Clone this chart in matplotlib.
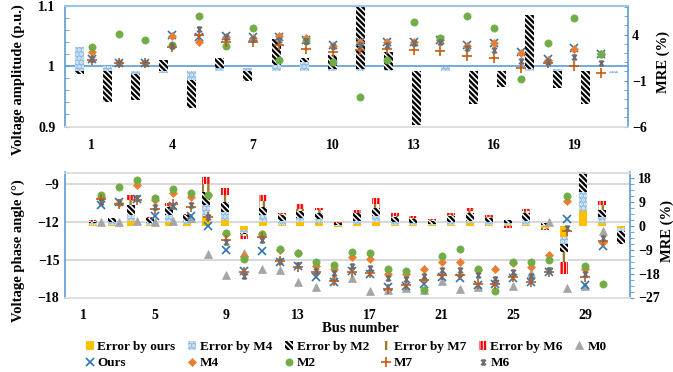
import numpy as np
import matplotlib
matplotlib.use("Agg")
import matplotlib.pyplot as plt
from matplotlib.path import Path
from matplotlib.patches import Patch
from matplotlib.lines import Line2D
from matplotlib.ticker import MultipleLocator, FixedLocator
import matplotlib.transforms as mtransforms

plt.rcParams['font.family'] = ['Liberation Serif', 'DejaVu Serif']
plt.rcParams['font.weight'] = 'bold'
plt.rcParams['hatch.linewidth'] = 1.7

# ---------------- top panel: voltage amplitude ----------------
amp_bus = list(range(1, 21))
amp_ours = [1.012, 1.006, 1.005, 1.0524, 1.048, 1.050, 1.048, 1.048, 1.044, 1.035,
            1.040, 1.040, 1.041, 1.044, 1.035, 1.039, 1.023, 1.0116, 1.030, 1.0204]
amp_m4 = [1.024, 1.006, 1.005, 1.051, 1.041, 1.049, 1.047, 1.0508, 1.0464, 1.034,
          1.040, 1.040, 1.041, 1.043, 1.034, 1.038, 1.022, 1.011, 1.029, 1.020]
amp_m2 = [1.0315, 1.0535, 1.0436, 1.0353, 1.084, 1.034, 1.063, 1.0104, 1.042, 1.0077,
          0.9496, 1.0104, 1.073, 1.0464, 1.0834, 1.063, 0.979, 1.038, 1.0796, 1.0204]
amp_m7 = [1.011, 1.006, 1.005, 1.0325, 1.052, 1.041, 1.041, 1.035, 1.028, 1.023,
          1.027, 1.028, 1.027, 1.026, 1.0176, 1.014, 0.9967, 1.005, 1.0005, 0.9884]
amp_m6 = [1.012, 1.006, 1.005, 1.034, 1.0624, 1.048, 1.046, 1.0436, 1.042, 1.034,
          1.035, 1.035, 1.038, 1.040, 1.030, 1.027, 1.009, 1.0066, 1.016, 1.005]
amp_err_cat = list(range(1, 21))
amp_err_m4 = [2.6, 0.6, -0.3, -0.2, -0.95, 0.4, 0.4, 0.7, 1.0, 0.3,
              0.3, 0.1, 0.0, 0.5, 0.0, 0.0, 0.2, 0.2, 0.0, -0.2]
amp_err_m2 = [-0.3, -3.3, -3.1, 1.2, -4.0, 1.5, -1.05, 3.5, 1.5, 1.8,
              7.5, 2.1, -5.85, 0.0, -3.5, -1.7, 6.1, -1.85, -3.6, 0.0]
amp_xticks = [1, 4, 7, 10, 13, 16, 19]

# ---------------- bottom panel: voltage phase angle ----------------
ang_bus = list(range(2, 31))
ang_m0 = [-12.0, -12.0, -11.95, -12.0, -11.95, -11.7, -14.58, -16.25, -14.5, -15.77,
          -15.8, -16.75, -17.15, -16.38, -16.46, -17.47, -17.4, -17.26, -17.4, -16.73,
          -17.32, -17.18, -16.6, -17.1, -16.02, -12.0, -17.26, -17.1, -12.72]
ang_ours = [-10.68, -10.41, -10.17, -11.5, -10.76, -11.5, -12.3, -14.25, -15.87, -14.34,
            -15.15, -15.5, -16.4, -16.75, -15.87, -16.1, -17.2, -17.05, -16.9, -16.4,
            -16.46, -17.0, -16.9, -16.45, -16.8, -15.95, -11.8, -17.0, -13.95]
ang_m4 = [-10.0, -10.5, -9.1, -10.25, -9.7, -10.0, -9.9, -13.0, -14.7, -13.0,
          -14.2, -14.5, -15.47, -15.72, -14.8, -14.97, -16.1, -16.1, -15.77, -15.18,
          -15.18, -15.85, -15.73, -15.3, -15.6, -14.6, -10.36, -15.75, -13.6]
ang_m2 = [-9.83, -9.2, -8.7, -10.09, -9.37, -9.69, -9.83, -12.85, -14.95, -12.93,
          -14.15, -14.47, -15.2, -15.4, -14.4, -14.47, -15.7, -15.87, -17.42, -14.73,
          -14.13, -15.7, -17.47, -15.2, -15.2, -15.06, -9.93, -15.53, -16.9]
ang_m7 = [-10.2, -10.6, -10.3, -10.95, -10.6, -10.8, -11.65, -13.4, -16.0, -13.2,
          -15.13, -15.6, -15.95, -16.7, -16.0, -16.06, -17.35, -17.0, -16.65, -16.25,
          -16.2, -16.95, -16.93, -16.38, -16.8, -16.0, -12.7, -16.35, -13.5]
ang_m6 = [-10.4, -10.4, -10.1, -10.85, -10.7, -10.62, -11.6, -13.6, -16.3, -13.45,
          -15.1, -15.4, -15.92, -16.03, -15.5, -15.63, -16.46, -16.57, -16.33, -15.8,
          -15.8, -16.2, -16.57, -15.98, -16.3, -15.85, -12.5, -16.15, -13.28]
ang_err_cat = list(range(1, 31))
ang_err_ours = [0, 0.3, 0.3, 1.8, 0.5, 1.5, 0.8, 3.4, 2.2, -1.6,
                1.5, 0.5, 1.3, 1.0, -0.5, 0.8, 1.5, 0.5, 0.3, 0.3,
                0.5, 1.2, 0.5, 0.3, 0.5, -1.0, -4.2, 5.7, 1.0, -1.0]
ang_err_m4 = [0, 1.0, 1.3, 4.0, 1.0, 4.0, 2.0, 7.8, 5.3, -2.6,
              4.0, 2.0, 3.0, 2.5, 0.5, 2.0, 3.8, 1.3, 1.0, 0.7,
              1.5, 2.0, 1.3, 1.0, 2.0, 0.5, -6.7, 12.9, 3.5, -2.0]
ang_err_m2 = [0, 1.3, 3.0, 7.8, 2.8, 7.2, 4.0, 12.9, 8.9, -3.2,
              7.2, 4.0, 5.5, 4.7, 1.0, 4.7, 6.8, 3.4, 2.6, 1.8,
              3.6, 4.7, 3.0, 2.2, 5.0, 1.0, -9.8, 21.0, 6.0, -6.7]
ang_err_m7 = [0, 1.8, 2.5, 9.7, 3.0, 7.5, 3.8, 15.7, 11.6, -4.0,
              9.3, 4.5, 6.5, 5.8, -0.4, 5.0, 8.1, 3.8, 3.0, 2.2,
              4.2, 5.5, 3.4, 1.5, 5.5, -1.2, -13.6, 19.0, 7.8, -6.5]
ang_err_m6 = [0, 2.2, 2.8, 11.6, 3.2, 8.5, 4.3, 18.5, 14.1, -5.0,
              11.6, 4.9, 8.1, 6.8, 1.5, 5.9, 10.4, 4.7, 3.6, 2.6,
              4.9, 6.9, 4.0, -0.8, 6.2, -1.6, -18.0, 18.0, 9.3, -6.9]
ang_xticks = [1, 5, 9, 13, 17, 21, 25, 29]

# ---------------- styles ----------------
BLUE_AX = '#5B9BD5'
GRID = '#D9D9D9'
bar_styles = {
    'Error by ours': dict(facecolor='#FFC000', edgecolor='#FFC000', hatch=None, z=5),
    'Error by M4': dict(facecolor='#8FBCE6', edgecolor='#E3EEF9', hatch='....', z=4),
    'Error by M2': dict(facecolor='white', edgecolor='black', hatch='\\\\\\\\\\\\', z=3),
    'Error by M7': dict(facecolor='white', edgecolor='#9C7C2C', hatch='|||', z=2),
    'Error by M6': dict(facecolor='white', edgecolor='#FF0000', hatch='|||||', z=1),
}
star_path = Path([(-1, -1), (1, 1), (-1, 1), (1, -1), (0, -1), (0, 1),
                  (-0.7, 1), (0.7, 1), (-0.7, -1), (0.7, -1)],
                 [Path.MOVETO, Path.LINETO] * 5)
mk_styles = {
    'M0': dict(marker='^', color='#A5A5A5', ms=6, mew=0.5, mfc='#A5A5A5'),
    'Ours': dict(marker='x', color='#2E75B6', ms=5.5, mew=1.2, mfc='#2E75B6'),
    'M4': dict(marker='D', color='#ED7D31', ms=4.2, mew=0.5, mfc='#ED7D31'),
    'M2': dict(marker='o', color='#70AD47', ms=5.2, mew=0.5, mfc='#70AD47'),
    'M7': dict(marker='+', color='#C55A11', ms=6.5, mew=1.2, mfc='#C55A11'),
    'M6': dict(marker=star_path, color='#6E6E6E', ms=3.6, mew=1.1, mfc='none'),
}

W, H = 673, 372
fig = plt.figure(figsize=(W / 100, H / 100), dpi=100)


def rect(l, t, r, b):
    return [l / W, 1 - b / H, (r - l) / W, (b - t) / H]


def draw_bars(ax, cats, series, width):
    for name, vals in series:
        st = bar_styles[name]
        ax.bar(cats, vals, width=width, facecolor=st['facecolor'], edgecolor=st['edgecolor'],
               hatch=st['hatch'], linewidth=0, zorder=st['z'])


def draw_markers(ax, x, series):
    for i, (name, vals) in enumerate(series):
        st = mk_styles[name]
        ax.plot(x, vals, linestyle='none', marker=st['marker'], color=st['color'],
                markersize=st['ms'], markeredgewidth=st['mew'], markerfacecolor=st['mfc'],
                zorder=10 + i, clip_on=False)


# ===== top panel =====
r1 = rect(65, 6, 628, 126.5)
axb1 = fig.add_axes(r1, zorder=1)
axm1 = fig.add_axes(r1, zorder=2)
axm1.patch.set_visible(False)

bl1 = mtransforms.blended_transform_factory(axb1.transAxes, axm1.transData)
axb1.plot([0, 1], [1.0, 1.0], transform=bl1, color=BLUE_AX, lw=1.2, zorder=0.5)
draw_bars(axb1, amp_err_cat, [('Error by M4', amp_err_m4), ('Error by M2', amp_err_m2)], 0.32)
axb1.set_xlim(0.5, 20.5)
axb1.set_ylim(-6, 7.1)
axb1.set_xticks([])
axb1.yaxis.tick_right()
axb1.yaxis.set_major_locator(FixedLocator([-6, -1, 4]))
axb1.yaxis.set_minor_locator(MultipleLocator(1))
axb1.tick_params(axis='y', which='both', direction='in', color=BLUE_AX, length=3, labelsize=10, pad=3)
for s in ['left', 'top', 'bottom']:
    axb1.spines[s].set_visible(False)
axb1.spines['right'].set_color(BLUE_AX)
axb1.spines['right'].set_linewidth(1.2)

draw_markers(axm1, amp_bus, [('Ours', amp_ours), ('M4', amp_m4), ('M2', amp_m2),
                             ('M7', amp_m7), ('M6', amp_m6)])
axm1.set_xlim(0, 21)
axm1.set_ylim(0.9, 1.1)
axm1.set_xticks(amp_xticks)
axm1.set_xticklabels([str(t) for t in amp_xticks])
axm1.tick_params(axis='x', length=0, labelsize=10, pad=9)
axm1.set_yticks([0.9, 1.0, 1.1])
axm1.set_yticklabels(['0.9', '1', '1.1'])
axm1.yaxis.set_minor_locator(MultipleLocator(0.02))
axm1.tick_params(axis='y', which='both', direction='in', color=BLUE_AX, length=3, labelsize=10, pad=7)
axm1.spines['right'].set_visible(False)
axm1.spines['left'].set_color(BLUE_AX)
axm1.spines['left'].set_linewidth(1.2)
axm1.spines['top'].set_color('#9DC3E6')
axm1.spines['top'].set_linewidth(1.5)
axm1.spines['bottom'].set_color(GRID)
axm1.spines['bottom'].set_linewidth(1.2)

# ===== bottom panel =====
r2 = rect(65, 172.5, 630, 297.5)
axb2 = fig.add_axes(r2, zorder=1)
axm2 = fig.add_axes(r2, zorder=2)
axm2.patch.set_visible(False)

bl2 = mtransforms.blended_transform_factory(axb2.transAxes, axm2.transData)
for gv in [-15, -12, -9]:
    axb2.plot([0, 1], [gv, gv], transform=bl2, color=GRID, lw=1.5, zorder=0.5)
draw_bars(axb2, ang_err_cat, [('Error by ours', ang_err_ours), ('Error by M4', ang_err_m4),
                              ('Error by M2', ang_err_m2), ('Error by M7', ang_err_m7),
                              ('Error by M6', ang_err_m6)], 0.42)
axb2.set_xlim(0.5, 30.5)
axb2.set_ylim(-27, 20.1)
axb2.set_xticks([])
axb2.yaxis.tick_right()
axb2.yaxis.set_major_locator(FixedLocator([-27, -18, -9, 0, 9, 18]))
axb2.yaxis.set_minor_locator(MultipleLocator(2.25))
axb2.tick_params(axis='y', which='both', direction='out', color=BLUE_AX, length=3, labelsize=10, pad=3)
for s in ['left', 'top', 'bottom']:
    axb2.spines[s].set_visible(False)
axb2.spines['right'].set_color(BLUE_AX)
axb2.spines['right'].set_linewidth(1.2)

draw_markers(axm2, ang_bus, [('M0', ang_m0), ('Ours', ang_ours), ('M4', ang_m4),
                             ('M2', ang_m2), ('M7', ang_m7), ('M6', ang_m6)])
axm2.set_xlim(0, 31.5)
axm2.set_ylim(-18, -8.08)
axm2.set_xticks(ang_xticks)
axm2.set_xticklabels([str(t) for t in ang_xticks])
axm2.tick_params(axis='x', length=0, labelsize=10, pad=8)
axm2.set_yticks([-18, -15, -12, -9])
axm2.tick_params(axis='y', length=0, labelsize=10, pad=4)
axm2.spines['right'].set_visible(False)
axm2.spines['left'].set_color(BLUE_AX)
axm2.spines['left'].set_linewidth(1.2)
axm2.spines['top'].set_color(GRID)
axm2.spines['top'].set_linewidth(1.2)
axm2.spines['bottom'].set_color(GRID)
axm2.spines['bottom'].set_linewidth(1.2)

# ===== axis titles =====
fig.text(18 / W, 1 - 80 / H, 'Voltage amplitude (p.u.)', rotation=90, ha='center', va='center',
         fontsize=10.5, fontweight='bold')
fig.text(18 / W, 1 - 251 / H, 'Voltage phase angle (°)', rotation=90, ha='center', va='center',
         fontsize=10.5, fontweight='bold')
fig.text(663 / W, 1 - 62 / H, 'MRE (%)', rotation=90, ha='center', va='center',
         fontsize=10.5, fontweight='bold')
fig.text(667 / W, 1 - 231 / H, 'MRE (%)', rotation=90, ha='center', va='center',
         fontsize=10.5, fontweight='bold')
fig.text(360 / W, 1 - 328 / H, 'Bus number', ha='center', va='center',
         fontsize=10.5, fontweight='bold')

# ===== legend =====
def bar_handle(name):
    st = bar_styles[name]
    return Patch(facecolor=st['facecolor'], edgecolor=st['edgecolor'], hatch=st['hatch'],
                 linewidth=0, label=name)


def mk_handle(name):
    st = mk_styles[name]
    return Line2D([], [], linestyle='none', marker=st['marker'], color=st['color'],
                  markersize=st['ms'], markeredgewidth=st['mew'], markerfacecolor=st['mfc'],
                  label=name)


handles = [bar_handle('Error by ours'), mk_handle('Ours'),
           bar_handle('Error by M4'), mk_handle('M4'),
           bar_handle('Error by M2'), mk_handle('M2'),
           bar_handle('Error by M7'), mk_handle('M7'),
           bar_handle('Error by M6'), mk_handle('M6'),
           mk_handle('M0')]
fig.legend(handles=handles, ncol=6, loc='center', bbox_to_anchor=(346 / W, 1 - 355 / H),
           frameon=False, fontsize=9.5, handlelength=0.6, handleheight=0.7,
           handletextpad=0.3, columnspacing=0.95, labelspacing=0.3, borderpad=0.1)

fig.savefig('out.png', dpi=100)
